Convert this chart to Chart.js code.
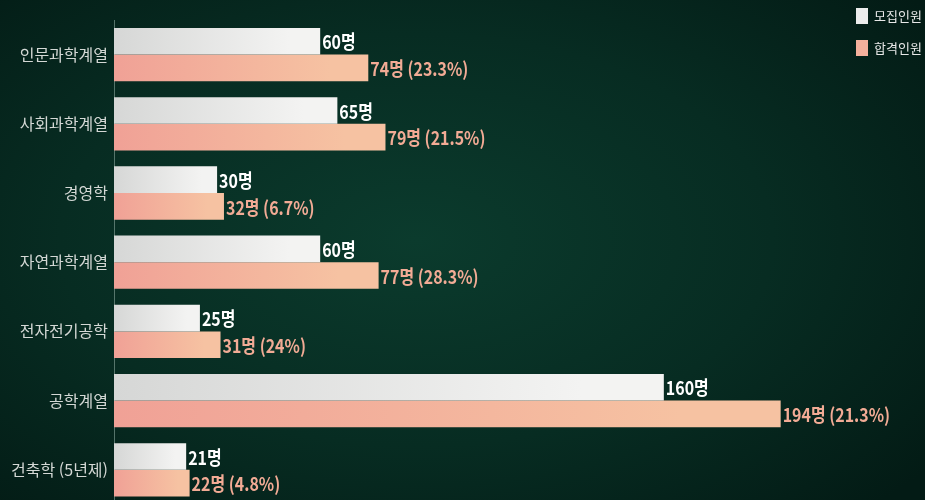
<!DOCTYPE html>
<html lang="ko">
<head>
    <meta charset="UTF-8">
    <title>모집인원 / 합격인원</title>
    <script src="https://cdn.jsdelivr.net/npm/chart.js"></script>
    <style>
        html, body {
            margin: 0;
            padding: 0;
            width: 925px;
            height: 500px;
            overflow: hidden;
        }
        body {
            font-family: "Noto Sans CJK KR", "Noto Sans", sans-serif;
            background: radial-gradient(ellipse 70% 75% at 45% 48%, #0b3b2d 0%, #072c22 55%, #031b15 100%);
            position: relative;
        }
        .chart-box {
            position: absolute;
            left: 0;
            top: 0;
            width: 925px;
            height: 520px;
        }
        .legend {
            position: absolute;
            left: 856px;
            top: 7px;
            color: #e8e8e8;
            font-size: 13px;
            line-height: 17px;
        }
        .legend div {
            display: flex;
            align-items: center;
            margin-bottom: 15px;
        }
        .legend span.box {
            width: 12px;
            height: 16px;
            margin-right: 6px;
        }
    </style>
</head>
<body>
    <div class="chart-box">
        <canvas id="admissionChart"></canvas>
    </div>
    <div class="legend">
        <div><span class="box" style="background:#ececec"></span>모집인원</div>
        <div><span class="box" style="background:#f4b09c"></span>합격인원</div>
    </div>

    <script>
        const categories = ['인문과학계열', '사회과학계열', '경영학', '자연과학계열', '전자전기공학', '공학계열', '건축학 (5년제)'];
        const recruited = [60, 65, 30, 60, 25, 160, 21];
        const admitted = [74, 79, 32, 77, 31, 194, 22];
        const admittedPct = ['23.3%', '21.5%', '6.7%', '28.3%', '24%', '21.3%', '4.8%'];

        function barGradient(from, to) {
            return function (context) {
                const chart = context.chart;
                const xScale = chart.scales.x;
                if (!chart.chartArea || !xScale || context.parsed == null) return from;
                const x0 = xScale.getPixelForValue(0);
                const x1 = xScale.getPixelForValue(context.parsed.x);
                if (!isFinite(x0) || !isFinite(x1) || x1 <= x0) return from;
                const g = chart.ctx.createLinearGradient(x0, 0, x1, 0);
                g.addColorStop(0, from);
                g.addColorStop(0.85, to);
                g.addColorStop(1, to);
                return g;
            };
        }

        // draws the "60명" / "74명 (23.3%)" texts at the end of each bar
        const valueLabels = {
            id: 'valueLabels',
            afterDatasetsDraw(chart) {
                const ctx = chart.ctx;
                ctx.save();
                ctx.font = 'bold 19px "Noto Sans CJK KR"';
                ctx.textBaseline = 'middle';
                chart.data.datasets.forEach((ds, di) => {
                    const meta = chart.getDatasetMeta(di);
                    meta.data.forEach((bar, i) => {
                        let text = recruited[i] + '명';
                        ctx.fillStyle = '#ffffff';
                        if (di === 1) {
                            text = admitted[i] + '명 (' + admittedPct[i] + ')';
                            ctx.fillStyle = '#f2ab95';
                        }
                        ctx.save();
                        ctx.translate(bar.x + 2, bar.y + 1);
                        ctx.scale(0.84, 1);
                        ctx.fillText(text, 0, 0);
                        ctx.restore();
                    });
                });
                ctx.restore();
            }
        };

        new Chart(document.getElementById('admissionChart'), {
            type: 'bar',
            data: {
                labels: categories,
                datasets: [
                    {
                        label: '모집인원',
                        data: recruited,
                        backgroundColor: barGradient('#d6d7d6', '#f3f3f2'),
                        barPercentage: 1.0,
                        categoryPercentage: 0.77
                    },
                    {
                        label: '합격인원',
                        data: admitted,
                        backgroundColor: barGradient('#f0a196', '#f6c2a2'),
                        barPercentage: 1.0,
                        categoryPercentage: 0.77
                    }
                ]
            },
            options: {
                indexAxis: 'y',
                responsive: true,
                maintainAspectRatio: false,
                animation: false,
                layout: {
                    padding: { top: 20, bottom: 10, left: 0, right: 0 }
                },
                plugins: {
                    legend: { display: false },
                    tooltip: { enabled: false }
                },
                scales: {
                    x: {
                        display: false,
                        min: 0,
                        max: 236
                    },
                    y: {
                        afterFit(scale) { scale.width = 114; },
                        grid: { display: false, drawTicks: false },
                        border: { display: true, color: 'rgba(120,150,140,0.7)', width: 1 },
                        ticks: {
                            color: '#d4d8d5',
                            padding: 6,
                            font: { family: '"Noto Sans CJK KR"', size: 16 }
                        }
                    }
                }
            },
            plugins: [valueLabels]
        });
    </script>
</body>
</html>
